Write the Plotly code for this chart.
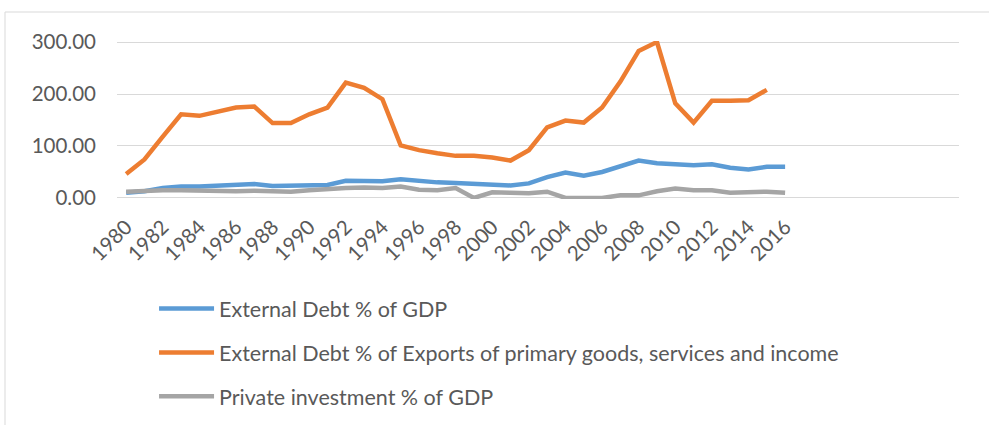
import plotly.graph_objects as go

years = list(range(1980, 2017))
debt_gdp = [10, 13, 19, 22, 22, 23, 24, 27, 23, 23, 25, 25, 33, 33, 32, 36, 32, 30, 29, 27,
            26, 24, 28, 40, 49, 43, 50, 60, 72, 67, 65, 63, 65, 58, 55, 60, 60]
debt_exports = [46, 74, 118, 161, 158, 167, 174, 176, 144, 144, 161, 174, 222, 212, 190, 101, 92, 86, 81, 81,
                78, 72, 92, 136, 149, 145, 174, 224, 283, 300, 182, 145, 187, 187, 188, 208, None]
private_inv = [12, 14, 15, 15, 14, 13, 13, 14, 13, 12, 15, 18, 19, 20, 19, 22, 16, 15, 19, 0,
               11, 10, 9, 12, 0, 0, 0, 5, 5, 13, 18, 15, 15, 10, 11, 12, 10]
tick_years = list(range(1980, 2017, 2))
y_ticks = [0, 100, 200, 300]

names = ["External Debt % of GDP",
         "External Debt % of Exports of primary goods, services and income",
         "Private investment % of GDP"]
colors = ["#5b9bd5", "#ed7d31", "#a5a5a5"]
series = [debt_gdp, debt_exports, private_inv]

fig = go.Figure()
for i, (nm, col, vals) in enumerate(zip(names, colors, series)):
    fig.add_trace(go.Scatter(x=years, y=vals, name=nm, mode="lines",
                             line=dict(color=col, width=4.5),
                             legendgroup=str(i)))

font_family = "Lato, 'Open Sans', sans-serif"
fig.update_layout(
    width=989, height=425,
    margin=dict(l=117, r=30, t=41, b=226, autoexpand=False),
    paper_bgcolor="white", plot_bgcolor="white",
    font=dict(family=font_family, color="#595959", size=20),
    showlegend=True,
    legend=dict(x=0.044, y=-0.563, xanchor="left", yanchor="top",
                orientation="v", traceorder="grouped", tracegroupgap=13,
                font=dict(size=21.5, color="#595959"), itemwidth=55,
                bgcolor="rgba(0,0,0,0)"),
    xaxis=dict(range=[1979.5, 2025.5], tickmode="array", tickvals=tick_years,
               ticktext=[str(y) for y in tick_years], tickangle=-45,
               showgrid=False, zeroline=False, showline=False, automargin=False,
               ticks="", tickfont=dict(size=20.5, color="#595959"),
               ticklabelstandoff=11),
    yaxis=dict(range=[-2, 302], tickmode="array", tickvals=y_ticks,
               ticktext=[f"{v:.2f}" for v in y_ticks], automargin=False,
               showgrid=True, gridcolor="#d9d9d9", gridwidth=1.3,
               zeroline=False, showline=False, ticks="",
               tickfont=dict(size=20.5, color="#595959"), ticklabelstandoff=20),
    shapes=[dict(type="rect", xref="paper", yref="paper",
                 x0=-0.133, x1=1.5, y0=-2.0, y1=1.1835,
                 line=dict(color="#d9d9d9", width=1), layer="below")],
)

fig.write_html("out.html")
